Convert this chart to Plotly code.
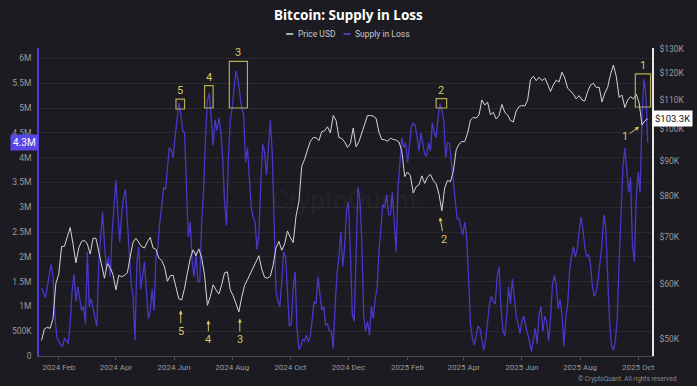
import math
import pandas as pd
import plotly.graph_objects as go

# ---------------- data ----------------
# Supply in Loss (millions of BTC), one value every 2 days from 2024-01-14
supply_loss_m = [
    1.37, 1.27, 1.17, 1.4, 1.65, 1.85, 1.6, 0.8, 0.38, 0.3,
    0.22, 0.2, 0.35, 0.32, 0.25, 0.65, 1.3, 1.65, 1.1, 1.4,
    1.2, 0.92, 1.0, 0.65, 2.1, 1.0, 1.15, 0.95, 0.75, 0.6,
    1.9, 2.5, 2.9, 2.25, 1.75, 2.0, 1.6, 2.5, 2.95, 3.55,
    2.9, 2.3, 2.85, 3.2, 3.36, 2.7, 2.1, 1.45, 1.2, 0.32,
    1.9, 2.2, 1.35, 1.6, 1.9, 1.3, 0.75, 0.9, 1.35, 0.92,
    2.0, 2.2, 2.7, 3.0, 3.4, 3.36, 3.85, 4.2, 4.15, 4.0,
    4.4, 4.75, 5.1, 4.9, 4.55, 4.5, 3.5, 2.4, 2.7, 1.9,
    1.6, 2.1, 1.5, 1.5, 2.7, 3.35, 4.4, 5.15, 5.3, 4.7,
    4.25, 4.76, 4.55, 4.8, 4.55, 4.0, 3.1, 2.63, 4.0, 4.75,
    5.0, 5.4, 5.75, 5.58, 5.3, 5.0, 4.87,
    3.9, 4.2, 3.6, 3.0, 2.8, 2.7, 2.15, 2.45, 3.46, 4.27,
    4.1, 3.65, 4.2, 4.75, 4.1, 2.55, 1.3, 1.1, 1.0, 1.5,
    2.1, 2.0, 1.3, 0.6, 0.65, 1.35, 1.7, 0.55, 0.13, 0.2,
    0.33, 0.3, 0.42, 0.28, 0.4, 0.75, 1.1, 1.05, 1.6, 1.25,
    0.93, 1.0, 0.62, 0.65, 0.5, 0.5, 0.15, 1.0, 1.65, 2.0,
    2.5, 1.8, 2.2, 2.95, 3.1, 2.1, 0.85, 0.7, 2.0, 3.4,
    3.15, 2.3, 0.8, 0.5, 0.7, 0.42, 1.0, 0.75, 1.15, 1.35,
    2.1, 2.5, 3.05, 3.0, 3.25, 2.85, 2.85, 3.3, 2.8, 2.1,
    3.4, 3.95, 4.4, 4.2, 4.3, 3.9, 4.3, 4.62, 4.7, 4.64,
    4.42, 4.13, 4.5, 4.28, 4.06, 4.04, 4.3, 4.13, 4.7, 4.5,
    4.4, 4.8, 5.08, 4.95, 4.75, 4.0, 4.3, 4.28,
    3.9, 3.58, 3.1, 2.77, 2.77, 2.6, 2.44, 2.7, 2.4, 1.6,
    0.65, 0.35, 0.22, 0.4, 0.6, 0.55, 0.3, 0.12, 0.33, 0.7,
    1.05, 1.2, 1.1, 1.05, 1.6, 1.8, 1.0, 0.52, 0.4, 0.8,
    1.4, 1.05, 1.55, 1.2, 0.8, 0.65, 0.45, 0.7, 0.8, 0.6,
    0.45, 0.3, 0.09, 0.33, 0.56, 0.25, 0.85, 1.0, 0.5, 0.8,
    0.7, 0.3, 0.75, 1.43, 1.63, 1.45, 0.95, 1.15, 0.85, 0.2,
    0.76, 1.05, 1.7, 2.0, 2.2, 2.0, 2.15, 2.5, 2.8, 2.55,
    2.2, 2.0, 2.05, 1.85, 1.4, 1.2, 1.3, 1.55, 1.85, 2.25,
    2.85, 2.6, 1.6, 0.7, 0.2, 0.12, 0.3, 0.75, 1.9, 3.05,
    3.8, 4.2, 3.8, 3.3, 3.6, 2.23, 1.9, 3.2, 3.71, 3.3,
    4.8, 5.58, 5.3, 4.3,
]

# BTC price (thousands of USD), one value every 3 days from 2024-01-14
price_k = [
    49.8, 51.7, 52.0, 51.8, 53.5, 60.1, 61.9, 67.8, 67.9, 70.3,
    72.2, 68.4, 64.3, 67.5, 69.0, 69.2, 68.4, 66.2, 69.7, 69.7,
    66.7, 63.3, 61.1, 64.1, 63.3, 61.8, 58.8, 61.7, 61.4, 61.7,
    62.2, 65.6, 68.8, 69.7, 68.8, 67.8, 67.5, 68.9, 69.9, 67.5,
    67.2, 65.3, 64.8, 63.4, 60.5, 61.6, 61.7, 59.4, 57.1, 56.9,
    59.1, 62.2, 65.2, 67.1, 65.8, 67.3, 65.3, 61.7, 55.9, 57.5,
    59.8, 58.8, 58.0, 59.8, 62.2, 62.4, 58.8, 57.7, 56.2, 54.7,
    57.4, 59.7,
    60.8, 62.0, 63.3, 64.6, 65.8, 63.0, 61.3, 61.1, 61.5, 63.8,
    67.5, 69.0, 67.0, 68.4, 71.4, 69.9, 68.7, 75.0, 78.6, 88.4,
    90.4, 93.2, 95.9, 97.1, 97.1, 96.1, 99.0, 99.3, 100.6, 98.6,
    104.4, 102.7, 97.1, 96.8, 95.7, 94.0, 95.2, 100.2, 94.2, 95.8,
    98.7, 101.2, 104.4, 104.4, 104.2, 103.4, 98.8, 96.5, 96.4, 95.9,
    96.9, 96.5, 96.3, 95.7, 92.9, 85.4, 86.7, 85.6, 80.9, 82.6,
    83.1, 85.6, 83.5, 85.3, 86.0, 84.3, 83.4, 80.5, 76.3, 82.3,
    84.3, 84.0,
    86.8, 93.2, 95.0, 95.8, 95.8, 98.5, 102.8, 103.8, 103.5, 104.6,
    109.9, 108.1, 109.1, 104.7, 105.5, 103.2, 104.4, 108.3, 105.5, 104.6,
    102.7, 102.2, 106.0, 107.5, 107.9, 107.7, 109.9, 117.5, 118.8, 117.1,
    118.4, 117.1, 118.1, 115.8, 113.0, 115.5, 117.3, 116.6, 120.4, 118.1,
    114.2, 113.2, 112.0, 110.3, 111.5, 109.9, 109.5, 113.0, 115.4, 116.1,
    114.5, 114.6, 109.2, 112.4, 114.6, 119.6, 123.3, 118.8, 110.8, 111.7,
    107.2, 109.9, 111.1, 110.3, 112.0, 108.8, 101.2, 102.6, 103.3,
]

left_tick_vals = [0, 0.5e6, 1e6, 1.5e6, 2e6, 2.5e6, 3e6, 3.5e6, 4e6, 4.5e6, 5e6, 5.5e6, 6e6]
left_tick_text = ["0", "500K", "1M", "1.5M", "2M", "2.5M", "3M", "3.5M", "4M", "4.5M", "5M", "5.5M", "6M"]
right_tick_vals = [50000, 60000, 70000, 80000, 90000, 100000, 110000, 120000, 130000]
right_tick_text = ["$50K", "$60K", "$70K", "$80K", "$90K", "$100K", "$110K", "$120K", "$130K"]

# highlighted peaks (boxes) and price lows (arrows)
box_labels = ["5", "4", "3", "2", "1"]
box_x0 = ["2024-06-03", "2024-07-03", "2024-07-29", "2025-03-03", "2025-09-28"]
box_x1 = ["2024-06-12", "2024-07-12", "2024-08-17", "2025-03-14", "2025-10-14"]
box_y0 = [4.98e6, 5.0e6, 5.0e6, 5.0e6, 5.02e6]
box_y1 = [5.18e6, 5.45e6, 5.94e6, 5.19e6, 5.69e6]

low_labels = ["5", "4", "3", "2", "1"]
low_x = ["2024-06-08", "2024-07-07", "2024-08-09", "2025-03-07", "2025-10-02"]
low_price = [55000, 53200, 53500, 74700, 100600]
low_ax = [0, 0, 0, 4, -14]
low_ay = [21, 19, 21, 22, 10]

last_supply_label = "4.3M"
last_price_label = "$103.3K"

# ---------------- figure ----------------
supply_dates = pd.date_range("2024-01-14", periods=len(supply_loss_m), freq="2D")
price_dates = pd.date_range("2024-01-14", periods=len(price_k), freq="3D")
supply_vals = [v * 1e6 for v in supply_loss_m]
price_usd = [v * 1000 for v in price_k]

BG = "#1b1b21"
PURPLE = "#4838c8"
WHITE_LINE = "#d6d6d6"
YEL = "#d6c664"
YEL_BOX = "#b9a954"
TICK = "#9a9a9e"
FONT = "Roboto"

fig = go.Figure()
fig.add_trace(go.Scatter(
    x=supply_dates, y=supply_vals, mode="lines", name="Supply in Loss",
    line=dict(color=PURPLE, width=1.3), yaxis="y", hoverinfo="skip"))
fig.add_trace(go.Scatter(
    x=price_dates, y=price_usd, mode="lines", name="Price USD",
    line=dict(color=WHITE_LINE, width=1.0), yaxis="y2", hoverinfo="skip"))

shapes = []
annotations = []
for lab, a, b, c, d in zip(box_labels, box_x0, box_x1, box_y0, box_y1):
    shapes.append(dict(type="rect", xref="x", yref="y", x0=a, x1=b, y0=c, y1=d,
                       line=dict(color=YEL_BOX, width=1.2), fillcolor="rgba(0,0,0,0)"))
    mid = pd.Timestamp(a) + (pd.Timestamp(b) - pd.Timestamp(a)) / 2
    annotations.append(dict(xref="x", yref="y", x=mid, y=d, text=lab, showarrow=False,
                            yanchor="bottom", xanchor="center",
                            font=dict(color=YEL, size=11, family=FONT)))

for lab, x, p, ax, ay in zip(low_labels, low_x, low_price, low_ax, low_ay):
    annotations.append(dict(xref="x", yref="y2", x=x, y=math.log10(p), text=lab,
                            showarrow=True, ax=ax, ay=ay, arrowhead=2, arrowsize=0.8,
                            arrowwidth=1, arrowcolor=YEL, standoff=0,
                            font=dict(color=YEL, size=11, family=FONT)))

# last-value tags
annotations.append(dict(xref="paper", yref="y", x=0, y=supply_vals[-1], text=last_supply_label,
                        showarrow=False, xanchor="right", yanchor="middle", bgcolor="#5a46e8",
                        borderpad=2, font=dict(color="white", size=10, family=FONT)))
annotations.append(dict(xref="paper", yref="y2", x=1, y=math.log10(price_usd[-1]), text=last_price_label,
                        showarrow=False, xanchor="left", yanchor="middle", bgcolor="white",
                        borderpad=2, font=dict(color="#111111", size=9.5, family=FONT)))

# legend (short line samples + text)
legend_items = [("Price USD", "#e0e0e0", 0.4032), ("Supply in Loss", "#5a46e8", 0.4968)]
for name, col, xp in legend_items:
    shapes.append(dict(type="line", xref="paper", yref="paper", x0=xp, x1=xp + 0.0115,
                       y0=1.0455, y1=1.0455, line=dict(color=col, width=1.5)))
    annotations.append(dict(xref="paper", yref="paper", x=xp + 0.016, y=1.0455, text=name,
                            showarrow=False, xanchor="left", yanchor="middle",
                            font=dict(color="#c8c8cc", size=8.5, family=FONT)))
# watermark
annotations.append(dict(xref="paper", yref="paper", x=0.498, y=0.506, text="CryptoQuant",
                        showarrow=False, font=dict(color="rgba(255,255,255,0.05)", size=26, family=FONT)))
# copyright
annotations.append(dict(xref="paper", yref="paper", x=1.0435, y=-0.0747,
                        text="© CryptoQuant. All rights reserved", showarrow=False,
                        xanchor="right", yanchor="middle",
                        font=dict(color="#8a8a8e", size=6.5, family=FONT)))

fig.update_layout(
    width=697, height=386,
    margin=dict(l=38, r=39, t=48, b=30),
    paper_bgcolor=BG, plot_bgcolor=BG,
    showlegend=False,
    font=dict(family=FONT, color=TICK, size=8),
    title=dict(text="<b>Bitcoin: Supply in Loss</b>", x=0.5, xanchor="center",
               y=1 - 15 / 386, yanchor="middle", yref="container",
               font=dict(color="white", size=13.5, family="Noto Sans")),
    xaxis=dict(type="date", range=["2024-01-11 07:00", "2025-10-15 12:00"],
               tick0="2024-02-01", dtick="M2", tickformat="%Y %b",
               showgrid=False, zeroline=False, showline=True, linecolor="#4a4a50",
               ticks="outside", ticklen=3, tickcolor="#4a4a50",
               tickfont=dict(color=TICK, size=8, family=FONT)),
    yaxis=dict(range=[0, 6.21e6], tickvals=left_tick_vals, ticktext=left_tick_text,
               showgrid=True, gridcolor="#28282f", gridwidth=1, zeroline=False,
               showline=True, linecolor="#4c3dd6", linewidth=1.5, ticklabelstandoff=4,
               tickfont=dict(color=TICK, size=8.5, family=FONT)),
    yaxis2=dict(overlaying="y", side="right", type="log",
                range=[math.log10(47300), math.log10(130400)],
                tickvals=right_tick_vals, ticktext=right_tick_text,
                showgrid=False, zeroline=False, showline=True, linecolor="#e6e6e6", linewidth=1.5,
                ticklabelstandoff=4,
                tickfont=dict(color=TICK, size=8.5, family=FONT)),
    shapes=shapes, annotations=annotations,
)

fig.write_html("out.html", config={"displayModeBar": False},
               post_script="document.body.style.margin='0';")
